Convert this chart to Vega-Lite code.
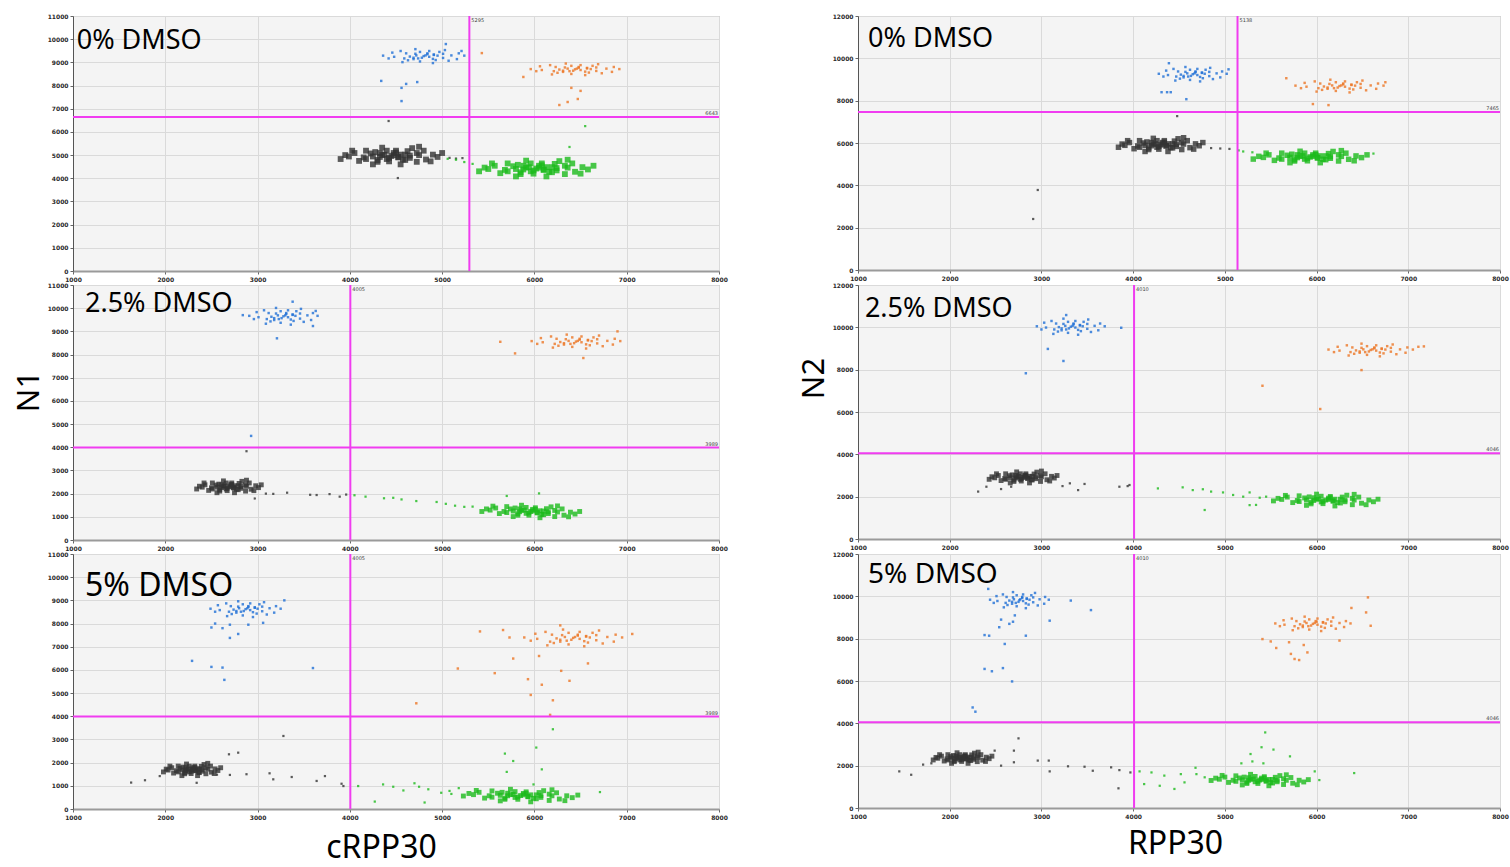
{
"$schema":"https://vega.github.io/schema/vega-lite/v6.json",
"padding":{"left":12,"top":12,"right":4,"bottom":6},
"background":"#ffffff",
"bounds":"flush",
"spacing":785,
"datasets":{
"thr":[
{"p":"l1","name":"0% DMSO","tx":5295,"ty":6643},
{"p":"l2","name":"2.5% DMSO","tx":4005,"ty":3989},
{"p":"l3","name":"5% DMSO","tx":4005,"ty":3989},
{"p":"r1","name":"0% DMSO","tx":5138,"ty":7465},
{"p":"r2","name":"2.5% DMSO","tx":4010,"ty":4046},
{"p":"r3","name":"5% DMSO","tx":4010,"ty":4046}
],
"l1":[
{"c":"k","x":4450,"y":4960},{"c":"k","x":4550,"y":5020},{"c":"k","x":4325,"y":4920},{"c":"k","x":4650,"y":4880},{"c":"k","x":4225,"y":5070},{"c":"k","x":4750,"y":5000},{"c":"k","x":4150,"y":4900},{"c":"k","x":4500,"y":5190},{"c":"k","x":4425,"y":4730},{"c":"k","x":4825,"y":4810},{"c":"k","x":4050,"y":5090},{"c":"k","x":4625,"y":5170},{"c":"k","x":4300,"y":4710},{"c":"k","x":4725,"y":4710},{"c":"k","x":4175,"y":5190},{"c":"k","x":4900,"y":5020},{"c":"k","x":3990,"y":4940},{"c":"k","x":4550,"y":4600},{"c":"k","x":4350,"y":5320},{"c":"k","x":4800,"y":5190},{"c":"k","x":4100,"y":4750},{"c":"k","x":4950,"y":4920},{"c":"k","x":3950,"y":5000},{"c":"k","x":4675,"y":5300},{"c":"k","x":4250,"y":4600},{"c":"k","x":4475,"y":5090},{"c":"k","x":4400,"y":4830},{"c":"k","x":4600,"y":4790},{"c":"k","x":4275,"y":5130},{"c":"k","x":4875,"y":4730},{"c":"k","x":4025,"y":5190},{"c":"k","x":4525,"y":4900},{"c":"k","x":4375,"y":5020},{"c":"k","x":5000,"y":5090},{"c":"k","x":3900,"y":4830},{"c":"k","x":4750,"y":5360},
{"c":"k","x":4525,"y":4920},{"c":"k","x":4350,"y":5000},{"c":"k","x":4500,"y":5110},{"c":"k","x":4425,"y":4880},{"c":"k","x":4650,"y":4980},{"c":"k","x":4250,"y":4940},{"c":"k","x":4575,"y":4810},{"c":"k","x":4325,"y":5090},{"c":"k","x":4725,"y":5090},{"c":"k","x":4175,"y":4830},{"c":"k","x":4475,"y":5000},{"c":"k","x":4400,"y":5190},{"c":"k","x":4600,"y":5020},{"c":"k","x":4300,"y":4790},
{"c":"k","x":5080,"y":4880,"r":1},{"c":"k","x":5150,"y":4850,"r":1},{"c":"k","x":5220,"y":4870,"r":1},{"c":"k","x":4520,"y":4010,"r":1},{"c":"k","x":4420,"y":6470,"r":1},
{"c":"g","x":6020,"y":4420},{"c":"g","x":6130,"y":4480},{"c":"g","x":5880,"y":4380},{"c":"g","x":6240,"y":4340},{"c":"g","x":5770,"y":4520},{"c":"g","x":6360,"y":4460},{"c":"g","x":5680,"y":4360},{"c":"g","x":6080,"y":4640},{"c":"g","x":5990,"y":4200},{"c":"g","x":6440,"y":4280},{"c":"g","x":5570,"y":4540},{"c":"g","x":6220,"y":4620},{"c":"g","x":5850,"y":4180},{"c":"g","x":6330,"y":4180},{"c":"g","x":5710,"y":4640},{"c":"g","x":6520,"y":4480},{"c":"g","x":5500,"y":4400},{"c":"g","x":6130,"y":4080},{"c":"g","x":5910,"y":4760},{"c":"g","x":6410,"y":4640},{"c":"g","x":5630,"y":4220},{"c":"g","x":6580,"y":4380},{"c":"g","x":5460,"y":4460},{"c":"g","x":6270,"y":4740},{"c":"g","x":5800,"y":4080},{"c":"g","x":6050,"y":4540},{"c":"g","x":5960,"y":4300},{"c":"g","x":6190,"y":4260},{"c":"g","x":5820,"y":4580},{"c":"g","x":6500,"y":4200},{"c":"g","x":5540,"y":4640},{"c":"g","x":6100,"y":4360},{"c":"g","x":5940,"y":4480},{"c":"g","x":6640,"y":4540},{"c":"g","x":5400,"y":4300},{"c":"g","x":6360,"y":4800},
{"c":"g","x":6100,"y":4380},{"c":"g","x":5910,"y":4460},{"c":"g","x":6080,"y":4560},{"c":"g","x":5990,"y":4340},{"c":"g","x":6240,"y":4440},{"c":"g","x":5800,"y":4400},{"c":"g","x":6160,"y":4280},{"c":"g","x":5880,"y":4540},{"c":"g","x":6330,"y":4540},{"c":"g","x":5710,"y":4300},{"c":"g","x":6050,"y":4460},{"c":"g","x":5960,"y":4640},{"c":"g","x":6190,"y":4480},{"c":"g","x":5850,"y":4260},
{"c":"g","x":5330,"y":4620,"r":1},{"c":"g","x":5240,"y":4700,"r":1},{"c":"g","x":5150,"y":4800,"r":1},{"c":"g","x":5060,"y":4840,"r":1},{"c":"g","x":6550,"y":6250,"r":1},{"c":"g","x":6380,"y":5350,"r":1},
{"c":"b","x":4800,"y":9270},{"c":"b","x":4910,"y":9340},{"c":"b","x":4690,"y":9200},{"c":"b","x":5010,"y":9190},{"c":"b","x":4610,"y":9390},{"c":"b","x":5100,"y":9300},{"c":"b","x":4480,"y":9240},{"c":"b","x":4860,"y":9490},{"c":"b","x":4760,"y":9040},{"c":"b","x":4970,"y":9450},{"c":"b","x":4630,"y":9090},{"c":"b","x":5070,"y":9070},{"c":"b","x":4550,"y":9490},{"c":"b","x":5180,"y":9390},{"c":"b","x":4420,"y":9170},{"c":"b","x":4900,"y":8970},{"c":"b","x":4710,"y":9570},{"c":"b","x":5160,"y":9140},{"c":"b","x":4460,"y":9420},{"c":"b","x":4840,"y":9350},{"c":"b","x":4740,"y":9170},{"c":"b","x":5030,"y":9530},{"c":"b","x":4570,"y":9010},{"c":"b","x":5240,"y":9290},{"c":"b","x":4360,"y":9290},{"c":"b","x":4930,"y":9100},
{"c":"b","x":4860,"y":9240},{"c":"b","x":4720,"y":9300},{"c":"b","x":4840,"y":9390},{"c":"b","x":4780,"y":9200},{"c":"b","x":4950,"y":9290},{"c":"b","x":4650,"y":9250},{"c":"b","x":4900,"y":9150},{"c":"b","x":4710,"y":9370},{"c":"b","x":5010,"y":9370},{"c":"b","x":4590,"y":9170},{"c":"b","x":4820,"y":9300},{"c":"b","x":4760,"y":9450},{"c":"b","x":4910,"y":9320},{"c":"b","x":4690,"y":9140},
{"c":"b","x":4340,"y":8200},{"c":"b","x":4560,"y":7900},{"c":"b","x":4560,"y":7330},{"c":"b","x":4610,"y":8070},{"c":"b","x":4730,"y":8150},{"c":"b","x":5040,"y":9790},{"c":"b","x":5210,"y":9490},
{"c":"o","x":6440,"y":8700},{"c":"o","x":6570,"y":8760},{"c":"o","x":6310,"y":8640},{"c":"o","x":6670,"y":8630},{"c":"o","x":6230,"y":8800},{"c":"o","x":6780,"y":8730},{"c":"o","x":6080,"y":8670},{"c":"o","x":6500,"y":8880},{"c":"o","x":6400,"y":8500},{"c":"o","x":6630,"y":8850},{"c":"o","x":6250,"y":8550},{"c":"o","x":6730,"y":8530},{"c":"o","x":6170,"y":8880},{"c":"o","x":6860,"y":8800},{"c":"o","x":6020,"y":8620},{"c":"o","x":6550,"y":8450},{"c":"o","x":6340,"y":8950},{"c":"o","x":6840,"y":8590},{"c":"o","x":6060,"y":8830},{"c":"o","x":6480,"y":8770},{"c":"o","x":6380,"y":8620},{"c":"o","x":6690,"y":8920},{"c":"o","x":6190,"y":8480},{"c":"o","x":6920,"y":8710},{"c":"o","x":5960,"y":8710},{"c":"o","x":6590,"y":8560},
{"c":"o","x":6500,"y":8670},{"c":"o","x":6360,"y":8730},{"c":"o","x":6480,"y":8800},{"c":"o","x":6420,"y":8640},{"c":"o","x":6610,"y":8710},{"c":"o","x":6270,"y":8690},{"c":"o","x":6550,"y":8600},{"c":"o","x":6330,"y":8780},{"c":"o","x":6670,"y":8780},{"c":"o","x":6210,"y":8620},{"c":"o","x":6460,"y":8730},{"c":"o","x":6400,"y":8850},{"c":"o","x":6570,"y":8740},{"c":"o","x":6310,"y":8590},
{"c":"o","x":5430,"y":9400},{"c":"o","x":5880,"y":8370},{"c":"o","x":6270,"y":7160},{"c":"o","x":6360,"y":7290},{"c":"o","x":6470,"y":7420},{"c":"o","x":6500,"y":7770},{"c":"o","x":6400,"y":7900}
],
"l2":[
{"c":"k","x":2690,"y":2290},{"c":"k","x":2750,"y":2340},{"c":"k","x":2610,"y":2260},{"c":"k","x":2820,"y":2230},{"c":"k","x":2550,"y":2370},{"c":"k","x":2880,"y":2320},{"c":"k","x":2500,"y":2250},{"c":"k","x":2720,"y":2460},{"c":"k","x":2670,"y":2130},{"c":"k","x":2930,"y":2190},{"c":"k","x":2430,"y":2380},{"c":"k","x":2800,"y":2440},{"c":"k","x":2590,"y":2110},{"c":"k","x":2870,"y":2110},{"c":"k","x":2510,"y":2460},{"c":"k","x":2980,"y":2340},{"c":"k","x":2400,"y":2280},{"c":"k","x":2750,"y":2040},{"c":"k","x":2630,"y":2550},{"c":"k","x":2910,"y":2460},{"c":"k","x":2470,"y":2140},{"c":"k","x":3010,"y":2260},{"c":"k","x":2370,"y":2320},{"c":"k","x":2830,"y":2530},{"c":"k","x":2560,"y":2040},{"c":"k","x":2710,"y":2380},{"c":"k","x":2660,"y":2200},{"c":"k","x":2790,"y":2170},{"c":"k","x":2580,"y":2410},{"c":"k","x":2960,"y":2130},{"c":"k","x":2420,"y":2460},{"c":"k","x":2740,"y":2250},{"c":"k","x":2640,"y":2340},{"c":"k","x":3040,"y":2380},{"c":"k","x":2340,"y":2200},{"c":"k","x":2880,"y":2580},
{"c":"k","x":2740,"y":2260},{"c":"k","x":2630,"y":2320},{"c":"k","x":2720,"y":2400},{"c":"k","x":2670,"y":2230},{"c":"k","x":2820,"y":2310},{"c":"k","x":2560,"y":2280},{"c":"k","x":2770,"y":2190},{"c":"k","x":2610,"y":2380},{"c":"k","x":2870,"y":2380},{"c":"k","x":2510,"y":2200},{"c":"k","x":2710,"y":2320},{"c":"k","x":2660,"y":2460},{"c":"k","x":2790,"y":2340},{"c":"k","x":2590,"y":2170},
{"c":"k","x":3090,"y":2000,"r":1},{"c":"k","x":3170,"y":1990,"r":1},{"c":"k","x":3320,"y":2040,"r":1},{"c":"k","x":3570,"y":1950,"r":1},{"c":"k","x":3640,"y":1940,"r":1},{"c":"k","x":3780,"y":1980,"r":1},{"c":"k","x":3890,"y":1870,"r":1},{"c":"k","x":3960,"y":1960,"r":1},{"c":"k","x":2880,"y":3830,"r":1},{"c":"k","x":2970,"y":1790,"r":1},
{"c":"g","x":5960,"y":1230},{"c":"g","x":6060,"y":1260},{"c":"g","x":5840,"y":1220},{"c":"g","x":6150,"y":1140},{"c":"g","x":5740,"y":1340},{"c":"g","x":6250,"y":1210},{"c":"g","x":5670,"y":1230},{"c":"g","x":6010,"y":1390},{"c":"g","x":5940,"y":1070},{"c":"g","x":6320,"y":1070},{"c":"g","x":5580,"y":1380},{"c":"g","x":6130,"y":1350},{"c":"g","x":5820,"y":1070},{"c":"g","x":6220,"y":1010},{"c":"g","x":5700,"y":1440},{"c":"g","x":6390,"y":1200},{"c":"g","x":5520,"y":1290},{"c":"g","x":6060,"y":960},{"c":"g","x":5860,"y":1500},{"c":"g","x":6300,"y":1340},{"c":"g","x":5620,"y":1140},{"c":"g","x":6440,"y":1120},{"c":"g","x":5480,"y":1340},{"c":"g","x":6180,"y":1430},{"c":"g","x":5770,"y":1010},{"c":"g","x":5980,"y":1320},{"c":"g","x":5910,"y":1150},{"c":"g","x":6100,"y":1090},{"c":"g","x":5790,"y":1380},{"c":"g","x":6370,"y":1000},{"c":"g","x":5550,"y":1460},{"c":"g","x":6030,"y":1170},{"c":"g","x":5890,"y":1290},{"c":"g","x":6490,"y":1230},{"c":"g","x":5430,"y":1230},{"c":"g","x":6250,"y":1470},
{"c":"g","x":6030,"y":1190},{"c":"g","x":5860,"y":1280},{"c":"g","x":6010,"y":1330},{"c":"g","x":5940,"y":1170},{"c":"g","x":6150,"y":1215},{"c":"g","x":5770,"y":1250},{"c":"g","x":6080,"y":1105},{"c":"g","x":5840,"y":1340},{"c":"g","x":6220,"y":1275},{"c":"g","x":5700,"y":1185},{"c":"g","x":5980,"y":1255},{"c":"g","x":5910,"y":1405},{"c":"g","x":6100,"y":1250},{"c":"g","x":5820,"y":1135},
{"c":"g","x":4050,"y":1930,"r":1},{"c":"g","x":4170,"y":1870,"r":1},{"c":"g","x":4370,"y":1800,"r":1},{"c":"g","x":4470,"y":1820,"r":1},{"c":"g","x":4560,"y":1750,"r":1},{"c":"g","x":4720,"y":1680,"r":1},{"c":"g","x":4940,"y":1640,"r":1},{"c":"g","x":5040,"y":1560,"r":1},{"c":"g","x":5140,"y":1480,"r":1},{"c":"g","x":5240,"y":1430,"r":1},{"c":"g","x":5330,"y":1440,"r":1},{"c":"g","x":5700,"y":1900,"r":1},{"c":"g","x":6050,"y":2010,"r":1},
{"c":"b","x":3280,"y":9650},{"c":"b","x":3380,"y":9730},{"c":"b","x":3180,"y":9570},{"c":"b","x":3460,"y":9550},{"c":"b","x":3120,"y":9790},{"c":"b","x":3540,"y":9690},{"c":"b","x":3010,"y":9610},{"c":"b","x":3330,"y":9910},{"c":"b","x":3250,"y":9370},{"c":"b","x":3420,"y":9870},{"c":"b","x":3140,"y":9430},{"c":"b","x":3500,"y":9410},{"c":"b","x":3070,"y":9910},{"c":"b","x":3600,"y":9790},{"c":"b","x":2960,"y":9530},{"c":"b","x":3360,"y":9290},{"c":"b","x":3200,"y":10010},{"c":"b","x":3580,"y":9490},{"c":"b","x":2990,"y":9830},{"c":"b","x":3310,"y":9750},{"c":"b","x":3230,"y":9530},{"c":"b","x":3470,"y":9970},{"c":"b","x":3090,"y":9330},{"c":"b","x":3650,"y":9670},{"c":"b","x":2910,"y":9670},{"c":"b","x":3390,"y":9450},
{"c":"b","x":3330,"y":9610},{"c":"b","x":3220,"y":9690},{"c":"b","x":3310,"y":9790},{"c":"b","x":3260,"y":9570},{"c":"b","x":3410,"y":9670},{"c":"b","x":3150,"y":9630},{"c":"b","x":3360,"y":9510},{"c":"b","x":3200,"y":9770},{"c":"b","x":3460,"y":9770},{"c":"b","x":3100,"y":9530},{"c":"b","x":3300,"y":9690},{"c":"b","x":3250,"y":9870},{"c":"b","x":3380,"y":9710},{"c":"b","x":3180,"y":9490},
{"c":"b","x":2840,"y":9700},{"c":"b","x":3210,"y":8700},{"c":"b","x":2930,"y":4490},{"c":"b","x":3380,"y":10280},{"c":"b","x":3630,"y":9880},{"c":"b","x":3600,"y":9230},
{"c":"o","x":6450,"y":8560},{"c":"o","x":6580,"y":8630},{"c":"o","x":6320,"y":8490},{"c":"o","x":6680,"y":8480},{"c":"o","x":6240,"y":8680},{"c":"o","x":6790,"y":8590},{"c":"o","x":6090,"y":8530},{"c":"o","x":6510,"y":8780},{"c":"o","x":6410,"y":8330},{"c":"o","x":6640,"y":8740},{"c":"o","x":6260,"y":8380},{"c":"o","x":6740,"y":8360},{"c":"o","x":6180,"y":8780},{"c":"o","x":6870,"y":8680},{"c":"o","x":6030,"y":8460},{"c":"o","x":6560,"y":8260},{"c":"o","x":6350,"y":8860},{"c":"o","x":6850,"y":8430},{"c":"o","x":6070,"y":8710},{"c":"o","x":6490,"y":8640},{"c":"o","x":6390,"y":8460},{"c":"o","x":6700,"y":8820},{"c":"o","x":6200,"y":8300},{"c":"o","x":6930,"y":8580},{"c":"o","x":5970,"y":8580},{"c":"o","x":6600,"y":8400},
{"c":"o","x":6510,"y":8530},{"c":"o","x":6370,"y":8590},{"c":"o","x":6490,"y":8680},{"c":"o","x":6430,"y":8490},{"c":"o","x":6620,"y":8580},{"c":"o","x":6280,"y":8540},{"c":"o","x":6560,"y":8440},{"c":"o","x":6340,"y":8660},{"c":"o","x":6680,"y":8660},{"c":"o","x":6220,"y":8460},{"c":"o","x":6470,"y":8590},{"c":"o","x":6410,"y":8740},{"c":"o","x":6580,"y":8610},{"c":"o","x":6320,"y":8430},
{"c":"o","x":5630,"y":8550},{"c":"o","x":5790,"y":8050},{"c":"o","x":6530,"y":7850},{"c":"o","x":6900,"y":9000}
],
"l3":[
{"c":"k","x":2290,"y":1690},{"c":"k","x":2350,"y":1730},{"c":"k","x":2220,"y":1660},{"c":"k","x":2400,"y":1630},{"c":"k","x":2160,"y":1760},{"c":"k","x":2460,"y":1720},{"c":"k","x":2120,"y":1650},{"c":"k","x":2320,"y":1850},{"c":"k","x":2280,"y":1530},{"c":"k","x":2500,"y":1590},{"c":"k","x":2070,"y":1780},{"c":"k","x":2390,"y":1840},{"c":"k","x":2210,"y":1520},{"c":"k","x":2440,"y":1520},{"c":"k","x":2140,"y":1850},{"c":"k","x":2540,"y":1730},{"c":"k","x":2030,"y":1680},{"c":"k","x":2350,"y":1440},{"c":"k","x":2230,"y":1940},{"c":"k","x":2490,"y":1850},{"c":"k","x":2090,"y":1550},{"c":"k","x":2570,"y":1660},{"c":"k","x":2010,"y":1720},{"c":"k","x":2420,"y":1920},{"c":"k","x":2180,"y":1440},{"c":"k","x":2300,"y":1780},{"c":"k","x":2260,"y":1600},{"c":"k","x":2370,"y":1570},{"c":"k","x":2190,"y":1810},{"c":"k","x":2530,"y":1530},{"c":"k","x":2050,"y":1850},{"c":"k","x":2330,"y":1650},{"c":"k","x":2250,"y":1730},{"c":"k","x":2600,"y":1780},{"c":"k","x":1980,"y":1600},{"c":"k","x":2460,"y":1970},
{"c":"k","x":2330,"y":1660},{"c":"k","x":2230,"y":1720},{"c":"k","x":2320,"y":1790},{"c":"k","x":2280,"y":1630},{"c":"k","x":2400,"y":1700},{"c":"k","x":2180,"y":1680},{"c":"k","x":2360,"y":1590},{"c":"k","x":2220,"y":1780},{"c":"k","x":2440,"y":1780},{"c":"k","x":2140,"y":1600},{"c":"k","x":2300,"y":1720},{"c":"k","x":2260,"y":1850},{"c":"k","x":2370,"y":1730},{"c":"k","x":2210,"y":1570},
{"c":"k","x":1630,"y":1140,"r":1},{"c":"k","x":1780,"y":1240,"r":1},{"c":"k","x":1940,"y":1420,"r":1},{"c":"k","x":2690,"y":2360,"r":1},{"c":"k","x":2790,"y":2430,"r":1},{"c":"k","x":3280,"y":3150,"r":1},{"c":"k","x":2700,"y":1470,"r":1},{"c":"k","x":2880,"y":1500,"r":1},{"c":"k","x":3130,"y":1540,"r":1},{"c":"k","x":3170,"y":1280,"r":1},{"c":"k","x":3370,"y":1380,"r":1},{"c":"k","x":3640,"y":1210,"r":1},{"c":"k","x":3730,"y":1420,"r":1},{"c":"k","x":3910,"y":1090,"r":1},{"c":"k","x":3930,"y":990,"r":1},{"c":"k","x":2560,"y":1480,"r":1},{"c":"k","x":2340,"y":1130,"r":1},
{"c":"g","x":5850,"y":580},{"c":"g","x":5960,"y":610},{"c":"g","x":5710,"y":570},{"c":"g","x":6070,"y":500},{"c":"g","x":5600,"y":680},{"c":"g","x":6190,"y":570},{"c":"g","x":5510,"y":570},{"c":"g","x":5910,"y":740},{"c":"g","x":5820,"y":420},{"c":"g","x":6270,"y":430},{"c":"g","x":5400,"y":720},{"c":"g","x":6050,"y":710},{"c":"g","x":5680,"y":420},{"c":"g","x":6160,"y":370},{"c":"g","x":5540,"y":780},{"c":"g","x":6350,"y":570},{"c":"g","x":5340,"y":620},{"c":"g","x":5960,"y":310},{"c":"g","x":5740,"y":850},{"c":"g","x":6240,"y":700},{"c":"g","x":5460,"y":470},{"c":"g","x":6410,"y":490},{"c":"g","x":5290,"y":670},{"c":"g","x":6100,"y":790},{"c":"g","x":5630,"y":350},{"c":"g","x":5880,"y":670},{"c":"g","x":5790,"y":500},{"c":"g","x":6020,"y":440},{"c":"g","x":5650,"y":720},{"c":"g","x":6330,"y":360},{"c":"g","x":5370,"y":800},{"c":"g","x":5930,"y":530},{"c":"g","x":5770,"y":630},{"c":"g","x":6470,"y":600},{"c":"g","x":5230,"y":560},{"c":"g","x":6190,"y":830},
{"c":"g","x":5930,"y":540},{"c":"g","x":5740,"y":620},{"c":"g","x":5910,"y":680},{"c":"g","x":5820,"y":520},{"c":"g","x":6070,"y":580},{"c":"g","x":5630,"y":590},{"c":"g","x":5990,"y":460},{"c":"g","x":5710,"y":680},{"c":"g","x":6160,"y":640},{"c":"g","x":5540,"y":510},{"c":"g","x":5880,"y":610},{"c":"g","x":5790,"y":750},{"c":"g","x":6020,"y":610},{"c":"g","x":5680,"y":470},
{"c":"g","x":4090,"y":990,"r":1},{"c":"g","x":4360,"y":1060,"r":1},{"c":"g","x":4470,"y":960,"r":1},{"c":"g","x":4580,"y":800,"r":1},{"c":"g","x":4700,"y":1110,"r":1},{"c":"g","x":4750,"y":960,"r":1},{"c":"g","x":4850,"y":850,"r":1},{"c":"g","x":4810,"y":280,"r":1},{"c":"g","x":4990,"y":700,"r":1},{"c":"g","x":5080,"y":780,"r":1},{"c":"g","x":4270,"y":320,"r":1},{"c":"g","x":5990,"y":1060,"r":1},{"c":"g","x":6020,"y":2650,"r":1},{"c":"g","x":6080,"y":1710,"r":1},{"c":"g","x":5680,"y":2390,"r":1},{"c":"g","x":5700,"y":1600,"r":1},{"c":"g","x":5770,"y":2070,"r":1},{"c":"g","x":6200,"y":3440,"r":1},{"c":"g","x":6710,"y":730,"r":1},{"c":"g","x":5180,"y":900,"r":1},{"c":"g","x":5100,"y":650,"r":1},
{"c":"b","x":2870,"y":8620},{"c":"b","x":2970,"y":8700},{"c":"b","x":2770,"y":8540},{"c":"b","x":3050,"y":8530},{"c":"b","x":2710,"y":8750},{"c":"b","x":3130,"y":8660},{"c":"b","x":2590,"y":8580},{"c":"b","x":2920,"y":8870},{"c":"b","x":2840,"y":8350},{"c":"b","x":3020,"y":8830},{"c":"b","x":2720,"y":8410},{"c":"b","x":3100,"y":8390},{"c":"b","x":2660,"y":8870},{"c":"b","x":3200,"y":8750},{"c":"b","x":2540,"y":8510},{"c":"b","x":2950,"y":8280},{"c":"b","x":2790,"y":8960},{"c":"b","x":3180,"y":8470},{"c":"b","x":2570,"y":8790},{"c":"b","x":2900,"y":8720},{"c":"b","x":2820,"y":8510},{"c":"b","x":3070,"y":8920},{"c":"b","x":2670,"y":8320},{"c":"b","x":3250,"y":8640},{"c":"b","x":2490,"y":8640},{"c":"b","x":2990,"y":8430},
{"c":"b","x":2920,"y":8580},{"c":"b","x":2800,"y":8660},{"c":"b","x":2900,"y":8750},{"c":"b","x":2850,"y":8540},{"c":"b","x":3000,"y":8640},{"c":"b","x":2740,"y":8600},{"c":"b","x":2950,"y":8490},{"c":"b","x":2790,"y":8730},{"c":"b","x":3050,"y":8730},{"c":"b","x":2690,"y":8510},{"c":"b","x":2890,"y":8660},{"c":"b","x":2840,"y":8830},{"c":"b","x":2970,"y":8680},{"c":"b","x":2770,"y":8470},
{"c":"b","x":2540,"y":8000},{"c":"b","x":2620,"y":7800},{"c":"b","x":2700,"y":7950},{"c":"b","x":2790,"y":7550},{"c":"b","x":2900,"y":7950},{"c":"b","x":2700,"y":7380},{"c":"b","x":2500,"y":7830},{"c":"b","x":3060,"y":8030},{"c":"b","x":3290,"y":9000},{"c":"b","x":2290,"y":6390},{"c":"b","x":2500,"y":6130},{"c":"b","x":2620,"y":6100},{"c":"b","x":2640,"y":5570},{"c":"b","x":3600,"y":6080},
{"c":"o","x":6420,"y":7380},{"c":"o","x":6560,"y":7460},{"c":"o","x":6280,"y":7300},{"c":"o","x":6670,"y":7280},{"c":"o","x":6190,"y":7520},{"c":"o","x":6790,"y":7420},{"c":"o","x":6030,"y":7340},{"c":"o","x":6490,"y":7640},{"c":"o","x":6370,"y":7100},{"c":"o","x":6630,"y":7600},{"c":"o","x":6210,"y":7160},{"c":"o","x":6740,"y":7140},{"c":"o","x":6120,"y":7640},{"c":"o","x":6880,"y":7520},{"c":"o","x":5960,"y":7260},{"c":"o","x":6540,"y":7020},{"c":"o","x":6310,"y":7740},{"c":"o","x":6860,"y":7220},{"c":"o","x":6010,"y":7560},{"c":"o","x":6470,"y":7480},{"c":"o","x":6350,"y":7260},{"c":"o","x":6700,"y":7700},{"c":"o","x":6140,"y":7060},{"c":"o","x":6950,"y":7400},{"c":"o","x":5890,"y":7400},{"c":"o","x":6580,"y":7180},
{"c":"o","x":6490,"y":7340},{"c":"o","x":6330,"y":7420},{"c":"o","x":6470,"y":7520},{"c":"o","x":6400,"y":7300},{"c":"o","x":6600,"y":7400},{"c":"o","x":6240,"y":7360},{"c":"o","x":6540,"y":7240},{"c":"o","x":6300,"y":7500},{"c":"o","x":6670,"y":7500},{"c":"o","x":6170,"y":7220},{"c":"o","x":6440,"y":7420},{"c":"o","x":6370,"y":7600},{"c":"o","x":6560,"y":7440},{"c":"o","x":6280,"y":7220},
{"c":"o","x":7060,"y":7550},{"c":"o","x":6280,"y":7920},{"c":"o","x":5410,"y":7660},{"c":"o","x":5660,"y":7720},{"c":"o","x":5730,"y":7400},{"c":"o","x":5170,"y":6060},{"c":"o","x":5570,"y":5860},{"c":"o","x":4720,"y":4560},{"c":"o","x":5770,"y":6490},{"c":"o","x":5930,"y":5600},{"c":"o","x":6080,"y":5360},{"c":"o","x":5960,"y":4920},{"c":"o","x":6200,"y":4690},{"c":"o","x":6170,"y":4060},{"c":"o","x":6290,"y":5960},{"c":"o","x":6380,"y":5530},{"c":"o","x":6580,"y":6280},{"c":"o","x":6050,"y":6600}
],
"r1":[
{"c":"k","x":4300,"y":5910},{"c":"k","x":4380,"y":5960},{"c":"k","x":4200,"y":5870},{"c":"k","x":4470,"y":5840},{"c":"k","x":4110,"y":6000},{"c":"k","x":4550,"y":5950},{"c":"k","x":4050,"y":5860},{"c":"k","x":4340,"y":6110},{"c":"k","x":4280,"y":5710},{"c":"k","x":4620,"y":5780},{"c":"k","x":3960,"y":6020},{"c":"k","x":4450,"y":6090},{"c":"k","x":4170,"y":5690},{"c":"k","x":4530,"y":5690},{"c":"k","x":4070,"y":6110},{"c":"k","x":4680,"y":5960},{"c":"k","x":3910,"y":5890},{"c":"k","x":4380,"y":5600},{"c":"k","x":4220,"y":6220},{"c":"k","x":4590,"y":6110},{"c":"k","x":4010,"y":5730},{"c":"k","x":4720,"y":5870},{"c":"k","x":3880,"y":5950},{"c":"k","x":4490,"y":6200},{"c":"k","x":4130,"y":5600},{"c":"k","x":4320,"y":6020},{"c":"k","x":4260,"y":5800},{"c":"k","x":4430,"y":5770},{"c":"k","x":4150,"y":6050},{"c":"k","x":4660,"y":5710},{"c":"k","x":3940,"y":6110},{"c":"k","x":4360,"y":5860},{"c":"k","x":4240,"y":5960},{"c":"k","x":4760,"y":6020},{"c":"k","x":3840,"y":5800},{"c":"k","x":4550,"y":6250},
{"c":"k","x":4360,"y":5870},{"c":"k","x":4220,"y":5950},{"c":"k","x":4340,"y":6040},{"c":"k","x":4280,"y":5840},{"c":"k","x":4470,"y":5930},{"c":"k","x":4130,"y":5890},{"c":"k","x":4410,"y":5780},{"c":"k","x":4200,"y":6020},{"c":"k","x":4530,"y":6020},{"c":"k","x":4070,"y":5800},{"c":"k","x":4320,"y":5950},{"c":"k","x":4260,"y":6110},{"c":"k","x":4430,"y":5960},{"c":"k","x":4170,"y":5770},
{"c":"k","x":4850,"y":5760,"r":1},{"c":"k","x":4950,"y":5740,"r":1},{"c":"k","x":5050,"y":5720,"r":1},{"c":"k","x":4480,"y":7270,"r":1},{"c":"k","x":2960,"y":3780,"r":1},{"c":"k","x":2910,"y":2410,"r":1},
{"c":"g","x":5930,"y":5340},{"c":"g","x":6040,"y":5390},{"c":"g","x":5790,"y":5310},{"c":"g","x":6150,"y":5280},{"c":"g","x":5680,"y":5420},{"c":"g","x":6270,"y":5370},{"c":"g","x":5590,"y":5290},{"c":"g","x":5990,"y":5520},{"c":"g","x":5900,"y":5160},{"c":"g","x":6350,"y":5230},{"c":"g","x":5480,"y":5440},{"c":"g","x":6130,"y":5500},{"c":"g","x":5760,"y":5150},{"c":"g","x":6240,"y":5150},{"c":"g","x":5620,"y":5520},{"c":"g","x":6430,"y":5390},{"c":"g","x":5420,"y":5320},{"c":"g","x":6040,"y":5070},{"c":"g","x":5820,"y":5610},{"c":"g","x":6320,"y":5520},{"c":"g","x":5540,"y":5180},{"c":"g","x":6490,"y":5310},{"c":"g","x":5370,"y":5370},{"c":"g","x":6180,"y":5600},{"c":"g","x":5710,"y":5070},{"c":"g","x":5960,"y":5440},{"c":"g","x":5870,"y":5240},{"c":"g","x":6100,"y":5210},{"c":"g","x":5730,"y":5470},{"c":"g","x":6410,"y":5160},{"c":"g","x":5450,"y":5520},{"c":"g","x":6010,"y":5290},{"c":"g","x":5850,"y":5390},{"c":"g","x":6550,"y":5440},{"c":"g","x":5310,"y":5240},{"c":"g","x":6270,"y":5640},
{"c":"g","x":6010,"y":5310},{"c":"g","x":5820,"y":5370},{"c":"g","x":5990,"y":5450},{"c":"g","x":5900,"y":5280},{"c":"g","x":6150,"y":5360},{"c":"g","x":5710,"y":5320},{"c":"g","x":6070,"y":5230},{"c":"g","x":5790,"y":5440},{"c":"g","x":6240,"y":5440},{"c":"g","x":5620,"y":5240},{"c":"g","x":5960,"y":5370},{"c":"g","x":5870,"y":5520},{"c":"g","x":6100,"y":5390},{"c":"g","x":5760,"y":5210},
{"c":"g","x":5200,"y":5600,"r":1},{"c":"g","x":5150,"y":5650,"r":1},{"c":"g","x":5300,"y":5560,"r":1},{"c":"g","x":6620,"y":5500,"r":1},
{"c":"b","x":4650,"y":9250},{"c":"b","x":4750,"y":9330},{"c":"b","x":4550,"y":9170},{"c":"b","x":4830,"y":9160},{"c":"b","x":4490,"y":9380},{"c":"b","x":4910,"y":9290},{"c":"b","x":4380,"y":9210},{"c":"b","x":4700,"y":9500},{"c":"b","x":4620,"y":8980},{"c":"b","x":4790,"y":9460},{"c":"b","x":4510,"y":9040},{"c":"b","x":4870,"y":9020},{"c":"b","x":4440,"y":9500},{"c":"b","x":4970,"y":9380},{"c":"b","x":4330,"y":9140},{"c":"b","x":4730,"y":8910},{"c":"b","x":4570,"y":9590},{"c":"b","x":4950,"y":9100},{"c":"b","x":4360,"y":9420},{"c":"b","x":4680,"y":9350},{"c":"b","x":4600,"y":9140},{"c":"b","x":4840,"y":9550},{"c":"b","x":4460,"y":8950},{"c":"b","x":5020,"y":9270},{"c":"b","x":4280,"y":9270},{"c":"b","x":4760,"y":9060},
{"c":"b","x":4700,"y":9210},{"c":"b","x":4590,"y":9290},{"c":"b","x":4680,"y":9380},{"c":"b","x":4630,"y":9170},{"c":"b","x":4780,"y":9270},{"c":"b","x":4520,"y":9230},{"c":"b","x":4730,"y":9120},{"c":"b","x":4570,"y":9360},{"c":"b","x":4830,"y":9360},{"c":"b","x":4470,"y":9140},{"c":"b","x":4670,"y":9290},{"c":"b","x":4620,"y":9460},{"c":"b","x":4750,"y":9310},{"c":"b","x":4550,"y":9100},
{"c":"b","x":4310,"y":8400},{"c":"b","x":4370,"y":8400},{"c":"b","x":4410,"y":8400},{"c":"b","x":4580,"y":8070},{"c":"b","x":4390,"y":9770},{"c":"b","x":5040,"y":9480},
{"c":"o","x":6250,"y":8690},{"c":"o","x":6380,"y":8760},{"c":"o","x":6120,"y":8620},{"c":"o","x":6480,"y":8610},{"c":"o","x":6040,"y":8810},{"c":"o","x":6590,"y":8720},{"c":"o","x":5890,"y":8660},{"c":"o","x":6310,"y":8910},{"c":"o","x":6210,"y":8460},{"c":"o","x":6440,"y":8870},{"c":"o","x":6060,"y":8510},{"c":"o","x":6540,"y":8490},{"c":"o","x":5980,"y":8910},{"c":"o","x":6670,"y":8810},{"c":"o","x":5830,"y":8590},{"c":"o","x":6360,"y":8390},{"c":"o","x":6150,"y":8990},{"c":"o","x":6650,"y":8560},{"c":"o","x":5870,"y":8840},{"c":"o","x":6290,"y":8770},{"c":"o","x":6190,"y":8590},{"c":"o","x":6500,"y":8950},{"c":"o","x":6000,"y":8430},{"c":"o","x":6730,"y":8710},{"c":"o","x":5770,"y":8710},{"c":"o","x":6400,"y":8530},
{"c":"o","x":6310,"y":8660},{"c":"o","x":6170,"y":8720},{"c":"o","x":6290,"y":8810},{"c":"o","x":6230,"y":8620},{"c":"o","x":6420,"y":8710},{"c":"o","x":6080,"y":8670},{"c":"o","x":6360,"y":8570},{"c":"o","x":6140,"y":8790},{"c":"o","x":6480,"y":8790},{"c":"o","x":6020,"y":8590},{"c":"o","x":6270,"y":8720},{"c":"o","x":6210,"y":8870},{"c":"o","x":6380,"y":8740},{"c":"o","x":6120,"y":8560},
{"c":"o","x":5670,"y":9060},{"c":"o","x":5960,"y":7840},{"c":"o","x":6130,"y":7790},{"c":"o","x":6750,"y":8870}
],
"r2":[
{"c":"k","x":2800,"y":2910},{"c":"k","x":2870,"y":2960},{"c":"k","x":2720,"y":2880},{"c":"k","x":2940,"y":2850},{"c":"k","x":2650,"y":2990},{"c":"k","x":3000,"y":2940},{"c":"k","x":2600,"y":2860},{"c":"k","x":2830,"y":3080},{"c":"k","x":2780,"y":2740},{"c":"k","x":3060,"y":2800},{"c":"k","x":2530,"y":3000},{"c":"k","x":2920,"y":3070},{"c":"k","x":2700,"y":2720},{"c":"k","x":2990,"y":2720},{"c":"k","x":2610,"y":3080},{"c":"k","x":3110,"y":2960},{"c":"k","x":2490,"y":2890},{"c":"k","x":2870,"y":2650},{"c":"k","x":2730,"y":3170},{"c":"k","x":3040,"y":3080},{"c":"k","x":2560,"y":2760},{"c":"k","x":3140,"y":2880},{"c":"k","x":2460,"y":2940},{"c":"k","x":2950,"y":3160},{"c":"k","x":2660,"y":2650},{"c":"k","x":2820,"y":3000},{"c":"k","x":2770,"y":2820},{"c":"k","x":2900,"y":2790},{"c":"k","x":2680,"y":3030},{"c":"k","x":3090,"y":2740},{"c":"k","x":2510,"y":3080},{"c":"k","x":2850,"y":2860},{"c":"k","x":2750,"y":2960},{"c":"k","x":3170,"y":3000},{"c":"k","x":2430,"y":2820},{"c":"k","x":3000,"y":3210},
{"c":"k","x":2850,"y":2880},{"c":"k","x":2730,"y":2940},{"c":"k","x":2830,"y":3020},{"c":"k","x":2780,"y":2850},{"c":"k","x":2940,"y":2930},{"c":"k","x":2660,"y":2890},{"c":"k","x":2890,"y":2800},{"c":"k","x":2720,"y":3000},{"c":"k","x":2990,"y":3000},{"c":"k","x":2610,"y":2820},{"c":"k","x":2820,"y":2940},{"c":"k","x":2770,"y":3080},{"c":"k","x":2900,"y":2960},{"c":"k","x":2700,"y":2790},
{"c":"k","x":2310,"y":2240,"r":1},{"c":"k","x":2400,"y":2470,"r":1},{"c":"k","x":2560,"y":2360,"r":1},{"c":"k","x":2670,"y":2470,"r":1},{"c":"k","x":3230,"y":2500,"r":1},{"c":"k","x":3310,"y":2630,"r":1},{"c":"k","x":3400,"y":2310,"r":1},{"c":"k","x":3470,"y":2600,"r":1},{"c":"k","x":3850,"y":2470,"r":1},{"c":"k","x":3940,"y":2500,"r":1},{"c":"k","x":3960,"y":2550,"r":1},
{"c":"g","x":6100,"y":1840},{"c":"g","x":6200,"y":1880},{"c":"g","x":5970,"y":1820},{"c":"g","x":6310,"y":1760},{"c":"g","x":5870,"y":1940},{"c":"g","x":6410,"y":1840},{"c":"g","x":5790,"y":1820},{"c":"g","x":6150,"y":2010},{"c":"g","x":6070,"y":1670},{"c":"g","x":6490,"y":1690},{"c":"g","x":5680,"y":1980},{"c":"g","x":6280,"y":1980},{"c":"g","x":5940,"y":1660},{"c":"g","x":6390,"y":1620},{"c":"g","x":5810,"y":2040},{"c":"g","x":6570,"y":1840},{"c":"g","x":5620,"y":1870},{"c":"g","x":6200,"y":1560},{"c":"g","x":6000,"y":2120},{"c":"g","x":6460,"y":1980},{"c":"g","x":5740,"y":1720},{"c":"g","x":6620,"y":1760},{"c":"g","x":5580,"y":1920},{"c":"g","x":6330,"y":2070},{"c":"g","x":5890,"y":1590},{"c":"g","x":6130,"y":1930},{"c":"g","x":6050,"y":1750},{"c":"g","x":6260,"y":1700},{"c":"g","x":5920,"y":1990},{"c":"g","x":6540,"y":1620},{"c":"g","x":5660,"y":2060},{"c":"g","x":6180,"y":1790},{"c":"g","x":6020,"y":1900},{"c":"g","x":6670,"y":1880},{"c":"g","x":5530,"y":1800},{"c":"g","x":6410,"y":2110},
{"c":"g","x":6180,"y":1800},{"c":"g","x":6000,"y":1880},{"c":"g","x":6150,"y":1950},{"c":"g","x":6070,"y":1780},{"c":"g","x":6310,"y":1840},{"c":"g","x":5890,"y":1840},{"c":"g","x":6230,"y":1720},{"c":"g","x":5970,"y":1950},{"c":"g","x":6390,"y":1920},{"c":"g","x":5810,"y":1770},{"c":"g","x":6130,"y":1870},{"c":"g","x":6050,"y":2020},{"c":"g","x":6260,"y":1880},{"c":"g","x":5940,"y":1730},
{"c":"g","x":4270,"y":2390,"r":1},{"c":"g","x":4540,"y":2440,"r":1},{"c":"g","x":4650,"y":2310,"r":1},{"c":"g","x":4760,"y":2350,"r":1},{"c":"g","x":4850,"y":2240,"r":1},{"c":"g","x":4980,"y":2200,"r":1},{"c":"g","x":5090,"y":2080,"r":1},{"c":"g","x":5200,"y":2000,"r":1},{"c":"g","x":5270,"y":2200,"r":1},{"c":"g","x":5340,"y":1610,"r":1},{"c":"g","x":5450,"y":2000,"r":1},{"c":"g","x":4780,"y":1370,"r":1},{"c":"g","x":5270,"y":1600,"r":1},{"c":"g","x":5380,"y":1950,"r":1},
{"c":"b","x":3320,"y":10030},{"c":"b","x":3420,"y":10110},{"c":"b","x":3220,"y":9950},{"c":"b","x":3500,"y":9930},{"c":"b","x":3160,"y":10180},{"c":"b","x":3580,"y":10070},{"c":"b","x":3050,"y":9990},{"c":"b","x":3370,"y":10300},{"c":"b","x":3290,"y":9740},{"c":"b","x":3460,"y":10260},{"c":"b","x":3180,"y":9800},{"c":"b","x":3540,"y":9780},{"c":"b","x":3110,"y":10300},{"c":"b","x":3640,"y":10180},{"c":"b","x":3000,"y":9900},{"c":"b","x":3400,"y":9650},{"c":"b","x":3240,"y":10410},{"c":"b","x":3620,"y":9860},{"c":"b","x":3030,"y":10220},{"c":"b","x":3350,"y":10140},{"c":"b","x":3270,"y":9900},{"c":"b","x":3510,"y":10370},{"c":"b","x":3130,"y":9690},{"c":"b","x":3690,"y":10050},{"c":"b","x":2950,"y":10050},{"c":"b","x":3430,"y":9820},
{"c":"b","x":3370,"y":9990},{"c":"b","x":3260,"y":10070},{"c":"b","x":3350,"y":10180},{"c":"b","x":3300,"y":9950},{"c":"b","x":3450,"y":10050},{"c":"b","x":3190,"y":10010},{"c":"b","x":3400,"y":9880},{"c":"b","x":3240,"y":10160},{"c":"b","x":3500,"y":10160},{"c":"b","x":3140,"y":9900},{"c":"b","x":3340,"y":10070},{"c":"b","x":3290,"y":10260},{"c":"b","x":3420,"y":10090},{"c":"b","x":3220,"y":9860},
{"c":"b","x":3070,"y":8980},{"c":"b","x":3240,"y":8410},{"c":"b","x":2830,"y":7830},{"c":"b","x":3870,"y":9980},{"c":"b","x":3270,"y":10580},
{"c":"o","x":6590,"y":8930},{"c":"o","x":6710,"y":9000},{"c":"o","x":6470,"y":8860},{"c":"o","x":6810,"y":8850},{"c":"o","x":6390,"y":9050},{"c":"o","x":6910,"y":8960},{"c":"o","x":6250,"y":8900},{"c":"o","x":6650,"y":9150},{"c":"o","x":6550,"y":8700},{"c":"o","x":6770,"y":9110},{"c":"o","x":6410,"y":8750},{"c":"o","x":6870,"y":8730},{"c":"o","x":6330,"y":9150},{"c":"o","x":6990,"y":9050},{"c":"o","x":6190,"y":8830},{"c":"o","x":6690,"y":8630},{"c":"o","x":6490,"y":9230},{"c":"o","x":6970,"y":8800},{"c":"o","x":6230,"y":9080},{"c":"o","x":6630,"y":9010},{"c":"o","x":6530,"y":8830},{"c":"o","x":6830,"y":9190},{"c":"o","x":6350,"y":8670},{"c":"o","x":7050,"y":8950},{"c":"o","x":6130,"y":8950},{"c":"o","x":6730,"y":8770},
{"c":"o","x":6650,"y":8900},{"c":"o","x":6510,"y":8960},{"c":"o","x":6630,"y":9050},{"c":"o","x":6570,"y":8860},{"c":"o","x":6750,"y":8950},{"c":"o","x":6430,"y":8910},{"c":"o","x":6690,"y":8810},{"c":"o","x":6490,"y":9030},{"c":"o","x":6810,"y":9030},{"c":"o","x":6370,"y":8830},{"c":"o","x":6610,"y":8960},{"c":"o","x":6550,"y":9110},{"c":"o","x":6710,"y":8980},{"c":"o","x":6470,"y":8800},
{"c":"o","x":7110,"y":9080},{"c":"o","x":7170,"y":9100},{"c":"o","x":6490,"y":7980},{"c":"o","x":5410,"y":7240},{"c":"o","x":6040,"y":6140}
],
"r3":[
{"c":"k","x":2140,"y":2360},{"c":"k","x":2200,"y":2400},{"c":"k","x":2070,"y":2330},{"c":"k","x":2260,"y":2300},{"c":"k","x":2010,"y":2430},{"c":"k","x":2310,"y":2390},{"c":"k","x":1970,"y":2320},{"c":"k","x":2170,"y":2520},{"c":"k","x":2130,"y":2200},{"c":"k","x":2360,"y":2260},{"c":"k","x":1910,"y":2450},{"c":"k","x":2240,"y":2510},{"c":"k","x":2050,"y":2190},{"c":"k","x":2300,"y":2190},{"c":"k","x":1980,"y":2520},{"c":"k","x":2400,"y":2400},{"c":"k","x":1870,"y":2350},{"c":"k","x":2200,"y":2110},{"c":"k","x":2080,"y":2610},{"c":"k","x":2340,"y":2520},{"c":"k","x":1940,"y":2220},{"c":"k","x":2430,"y":2330},{"c":"k","x":1850,"y":2390},{"c":"k","x":2270,"y":2590},{"c":"k","x":2020,"y":2110},{"c":"k","x":2160,"y":2450},{"c":"k","x":2110,"y":2270},{"c":"k","x":2230,"y":2240},{"c":"k","x":2040,"y":2480},{"c":"k","x":2390,"y":2200},{"c":"k","x":1890,"y":2520},{"c":"k","x":2180,"y":2320},{"c":"k","x":2100,"y":2400},{"c":"k","x":2460,"y":2450},{"c":"k","x":1820,"y":2270},{"c":"k","x":2310,"y":2640},
{"c":"k","x":2180,"y":2330},{"c":"k","x":2080,"y":2390},{"c":"k","x":2170,"y":2460},{"c":"k","x":2130,"y":2300},{"c":"k","x":2260,"y":2370},{"c":"k","x":2020,"y":2350},{"c":"k","x":2210,"y":2260},{"c":"k","x":2070,"y":2450},{"c":"k","x":2300,"y":2450},{"c":"k","x":1980,"y":2270},{"c":"k","x":2150,"y":2390},{"c":"k","x":2110,"y":2520},{"c":"k","x":2230,"y":2400},{"c":"k","x":2050,"y":2240},
{"c":"k","x":1450,"y":1730,"r":1},{"c":"k","x":1580,"y":1570,"r":1},{"c":"k","x":1710,"y":2050,"r":1},{"c":"k","x":1800,"y":2110,"r":1},{"c":"k","x":2490,"y":2710,"r":1},{"c":"k","x":2560,"y":2000,"r":1},{"c":"k","x":2700,"y":2710,"r":1},{"c":"k","x":2700,"y":2160,"r":1},{"c":"k","x":2750,"y":3290,"r":1},{"c":"k","x":2960,"y":2240,"r":1},{"c":"k","x":3080,"y":2240,"r":1},{"c":"k","x":3090,"y":1730,"r":1},{"c":"k","x":3290,"y":1970,"r":1},{"c":"k","x":3470,"y":1950,"r":1},{"c":"k","x":3560,"y":1760,"r":1},{"c":"k","x":3760,"y":1920,"r":1},{"c":"k","x":3850,"y":1790,"r":1},{"c":"k","x":3970,"y":1680,"r":1},{"c":"k","x":3840,"y":930,"r":1},
{"c":"g","x":5380,"y":1320},{"c":"g","x":5480,"y":1350},{"c":"g","x":5260,"y":1310},{"c":"g","x":5570,"y":1240},{"c":"g","x":5160,"y":1420},{"c":"g","x":5670,"y":1310},{"c":"g","x":5090,"y":1310},{"c":"g","x":5430,"y":1480},{"c":"g","x":5360,"y":1160},{"c":"g","x":5740,"y":1170},{"c":"g","x":5000,"y":1460},{"c":"g","x":5550,"y":1450},{"c":"g","x":5240,"y":1160},{"c":"g","x":5640,"y":1110},{"c":"g","x":5120,"y":1520},{"c":"g","x":5810,"y":1310},{"c":"g","x":4940,"y":1360},{"c":"g","x":5480,"y":1050},{"c":"g","x":5280,"y":1590},{"c":"g","x":5720,"y":1440},{"c":"g","x":5040,"y":1210},{"c":"g","x":5860,"y":1230},{"c":"g","x":4900,"y":1410},{"c":"g","x":5600,"y":1530},{"c":"g","x":5190,"y":1090},{"c":"g","x":5400,"y":1410},{"c":"g","x":5330,"y":1240},{"c":"g","x":5520,"y":1180},{"c":"g","x":5210,"y":1460},{"c":"g","x":5790,"y":1100},{"c":"g","x":4970,"y":1540},{"c":"g","x":5450,"y":1270},{"c":"g","x":5310,"y":1370},{"c":"g","x":5910,"y":1340},{"c":"g","x":4850,"y":1300},{"c":"g","x":5670,"y":1570},
{"c":"g","x":5450,"y":1280},{"c":"g","x":5280,"y":1360},{"c":"g","x":5430,"y":1420},{"c":"g","x":5360,"y":1260},{"c":"g","x":5570,"y":1310},{"c":"g","x":5190,"y":1330},{"c":"g","x":5500,"y":1200},{"c":"g","x":5260,"y":1430},{"c":"g","x":5640,"y":1380},{"c":"g","x":5120,"y":1260},{"c":"g","x":5400,"y":1350},{"c":"g","x":5330,"y":1490},{"c":"g","x":5520,"y":1350},{"c":"g","x":5240,"y":1220},
{"c":"g","x":4070,"y":1730,"r":1},{"c":"g","x":4200,"y":1680,"r":1},{"c":"g","x":4340,"y":1530,"r":1},{"c":"g","x":4520,"y":1600,"r":1},{"c":"g","x":4690,"y":1600,"r":1},{"c":"g","x":4780,"y":1450,"r":1},{"c":"g","x":4560,"y":1210,"r":1},{"c":"g","x":4450,"y":900,"r":1},{"c":"g","x":4120,"y":1130,"r":1},{"c":"g","x":4290,"y":1050,"r":1},{"c":"g","x":5440,"y":3570,"r":1},{"c":"g","x":5400,"y":2870,"r":1},{"c":"g","x":5280,"y":2550,"r":1},{"c":"g","x":5530,"y":2760,"r":1},{"c":"g","x":5710,"y":2440,"r":1},{"c":"g","x":5180,"y":2110,"r":1},{"c":"g","x":5300,"y":2200,"r":1},{"c":"g","x":5420,"y":2110,"r":1},{"c":"g","x":5980,"y":1730,"r":1},{"c":"g","x":6410,"y":1650,"r":1},{"c":"g","x":6030,"y":1320,"r":1},{"c":"g","x":4680,"y":1900,"r":1},
{"c":"b","x":2760,"y":9820},{"c":"b","x":2840,"y":9900},{"c":"b","x":2680,"y":9740},{"c":"b","x":2910,"y":9720},{"c":"b","x":2620,"y":9970},{"c":"b","x":2980,"y":9860},{"c":"b","x":2520,"y":9780},{"c":"b","x":2800,"y":10090},{"c":"b","x":2730,"y":9530},{"c":"b","x":2890,"y":10050},{"c":"b","x":2630,"y":9590},{"c":"b","x":2960,"y":9570},{"c":"b","x":2580,"y":10090},{"c":"b","x":3040,"y":9970},{"c":"b","x":2480,"y":9690},{"c":"b","x":2830,"y":9440},{"c":"b","x":2690,"y":10200},{"c":"b","x":3030,"y":9650},{"c":"b","x":2510,"y":10010},{"c":"b","x":2790,"y":9930},{"c":"b","x":2720,"y":9690},{"c":"b","x":2930,"y":10160},{"c":"b","x":2590,"y":9480},{"c":"b","x":3080,"y":9840},{"c":"b","x":2440,"y":9840},{"c":"b","x":2860,"y":9610},
{"c":"b","x":2800,"y":9780},{"c":"b","x":2700,"y":9860},{"c":"b","x":2790,"y":9970},{"c":"b","x":2750,"y":9740},{"c":"b","x":2870,"y":9840},{"c":"b","x":2650,"y":9800},{"c":"b","x":2830,"y":9670},{"c":"b","x":2690,"y":9950},{"c":"b","x":2910,"y":9950},{"c":"b","x":2610,"y":9690},{"c":"b","x":2770,"y":9860},{"c":"b","x":2730,"y":10050},{"c":"b","x":2840,"y":9880},{"c":"b","x":2680,"y":9650},
{"c":"b","x":2380,"y":8170},{"c":"b","x":2430,"y":8140},{"c":"b","x":2540,"y":8540},{"c":"b","x":2600,"y":7750},{"c":"b","x":2650,"y":8700},{"c":"b","x":2690,"y":8800},{"c":"b","x":2830,"y":8140},{"c":"b","x":3090,"y":8850},{"c":"b","x":2380,"y":6570},{"c":"b","x":2460,"y":6460},{"c":"b","x":2580,"y":6610},{"c":"b","x":2680,"y":5980},{"c":"b","x":2250,"y":4750},{"c":"b","x":2280,"y":4550},{"c":"b","x":3320,"y":9800},{"c":"b","x":3540,"y":9350},{"c":"b","x":2420,"y":10350},{"c":"b","x":2710,"y":9100},{"c":"b","x":2560,"y":8900},
{"c":"o","x":5960,"y":8700},{"c":"o","x":6070,"y":8780},{"c":"o","x":5850,"y":8620},{"c":"o","x":6160,"y":8610},{"c":"o","x":5780,"y":8830},{"c":"o","x":6250,"y":8740},{"c":"o","x":5650,"y":8660},{"c":"o","x":6010,"y":8950},{"c":"o","x":5920,"y":8430},{"c":"o","x":6120,"y":8910},{"c":"o","x":5800,"y":8490},{"c":"o","x":6210,"y":8470},{"c":"o","x":5730,"y":8950},{"c":"o","x":6320,"y":8830},{"c":"o","x":5600,"y":8590},{"c":"o","x":6050,"y":8360},{"c":"o","x":5870,"y":9040},{"c":"o","x":6300,"y":8550},{"c":"o","x":5640,"y":8870},{"c":"o","x":6000,"y":8800},{"c":"o","x":5910,"y":8590},{"c":"o","x":6180,"y":9000},{"c":"o","x":5740,"y":8400},{"c":"o","x":6370,"y":8720},{"c":"o","x":5550,"y":8720},{"c":"o","x":6090,"y":8510},
{"c":"o","x":6010,"y":8660},{"c":"o","x":5890,"y":8740},{"c":"o","x":5990,"y":8830},{"c":"o","x":5940,"y":8620},{"c":"o","x":6100,"y":8720},{"c":"o","x":5820,"y":8680},{"c":"o","x":6050,"y":8570},{"c":"o","x":5870,"y":8810},{"c":"o","x":6160,"y":8810},{"c":"o","x":5760,"y":8590},{"c":"o","x":5980,"y":8740},{"c":"o","x":5920,"y":8910},{"c":"o","x":6070,"y":8760},{"c":"o","x":5850,"y":8550},
{"c":"o","x":5700,"y":7830},{"c":"o","x":5720,"y":7280},{"c":"o","x":5760,"y":7040},{"c":"o","x":5810,"y":6990},{"c":"o","x":5900,"y":7350},{"c":"o","x":5560,"y":7560},{"c":"o","x":5410,"y":7980},{"c":"o","x":5500,"y":7870},{"c":"o","x":6560,"y":9950},{"c":"o","x":6540,"y":9240},{"c":"o","x":6590,"y":8610},{"c":"o","x":6380,"y":9450},{"c":"o","x":6250,"y":7910},{"c":"o","x":5860,"y":7700}
]
},
"hconcat":[
{"bounds":"flush","spacing":14,"vconcat":[
{"width":646,"height":255,"layer":[
{"data":{"name":"l1"},"mark":{"type":"square","opacity":0.8},"encoding":{
"x":{"field":"x","type":"quantitative","scale":{"domain":[1000,8000],"nice":false,"zero":false},"axis":{"values":[1000,2000,3000,4000,5000,6000,7000,8000],"format":"d","title":null}},
"y":{"field":"y","type":"quantitative","scale":{"domain":[0,11000],"nice":false},"axis":{"values":[0,1000,2000,3000,4000,5000,6000,7000,8000,9000,10000,11000],"format":"d","title":null}},
"color":{"field":"c","type":"nominal","scale":{"domain":["b","o","k","g"],"range":["#1f6fd6","#ec7524","#333333","#1cba1c"]},"legend":null},
"size":{"condition":[{"test":"datum.r == 1","value":5},{"test":"datum.c == 'k' || datum.c == 'g'","value":34}],"value":6}}},
{"data":{"name":"thr"},"transform":[{"filter":"datum.p == 'l1'"}],"mark":{"type":"rule","color":"#f03cf0","strokeWidth":2},"encoding":{"x":{"field":"tx","type":"quantitative","axis":{"values":[1000,2000,3000,4000,5000,6000,7000,8000],"format":"d","title":null}}}},
{"data":{"name":"thr"},"transform":[{"filter":"datum.p == 'l1'"}],"mark":{"type":"rule","color":"#f03cf0","strokeWidth":2},"encoding":{"y":{"field":"ty","type":"quantitative","axis":{"values":[0,1000,2000,3000,4000,5000,6000,7000,8000,9000,10000,11000],"format":"d","title":null}}}},
{"data":{"name":"thr"},"transform":[{"filter":"datum.p == 'l1'"}],"mark":{"type":"text","font":"DejaVu Sans","fontSize":5,"color":"#444","align":"left","baseline":"top","dx":2,"dy":2},"encoding":{"x":{"field":"tx","type":"quantitative","axis":{"values":[1000,2000,3000,4000,5000,6000,7000,8000],"format":"d","title":null}},"y":{"datum":11000,"type":"quantitative","axis":{"values":[0,1000,2000,3000,4000,5000,6000,7000,8000,9000,10000,11000],"format":"d","title":null}},"text":{"field":"tx","type":"quantitative","format":"d"}}},
{"data":{"name":"thr"},"transform":[{"filter":"datum.p == 'l1'"}],"mark":{"type":"text","font":"DejaVu Sans","fontSize":5,"color":"#444","align":"right","baseline":"bottom","dx":-1,"dy":-1},"encoding":{"x":{"datum":8000,"type":"quantitative","axis":{"values":[1000,2000,3000,4000,5000,6000,7000,8000],"format":"d","title":null}},"y":{"field":"ty","type":"quantitative","axis":{"values":[0,1000,2000,3000,4000,5000,6000,7000,8000,9000,10000,11000],"format":"d","title":null}},"text":{"field":"ty","type":"quantitative","format":"d"}}},
{"data":{"name":"thr"},"transform":[{"filter":"datum.p == 'l1'"}],"mark":{"type":"text","font":"Noto Sans","fontSize":27,"color":"#000","align":"left","baseline":"alphabetic"},"encoding":{"x":{"datum":1040,"type":"quantitative","axis":{"values":[1000,2000,3000,4000,5000,6000,7000,8000],"format":"d","title":null}},"y":{"datum":9580,"type":"quantitative","axis":{"values":[0,1000,2000,3000,4000,5000,6000,7000,8000,9000,10000,11000],"format":"d","title":null}},"text":{"field":"name"}}}
]},
{"width":646,"height":255,"layer":[
{"data":{"name":"l2"},"mark":{"type":"square","opacity":0.8},"encoding":{
"x":{"field":"x","type":"quantitative","scale":{"domain":[1000,8000],"nice":false,"zero":false},"axis":{"values":[1000,2000,3000,4000,5000,6000,7000,8000],"format":"d","title":null}},
"y":{"field":"y","type":"quantitative","title":"N1","scale":{"domain":[0,11000],"nice":false},"axis":{"values":[0,1000,2000,3000,4000,5000,6000,7000,8000,9000,10000,11000],"format":"d","titleFontSize":31,"titleX":-35,"titleY":106,"titleBaseline":"alphabetic","titleAngle":270}},
"color":{"field":"c","type":"nominal","scale":{"domain":["b","o","k","g"],"range":["#1f6fd6","#ec7524","#333333","#1cba1c"]},"legend":null},
"size":{"condition":[{"test":"datum.r == 1","value":5},{"test":"datum.c == 'k' || datum.c == 'g'","value":24}],"value":6}}},
{"data":{"name":"thr"},"transform":[{"filter":"datum.p == 'l2'"}],"mark":{"type":"rule","color":"#f03cf0","strokeWidth":2},"encoding":{"x":{"field":"tx","type":"quantitative","axis":{"values":[1000,2000,3000,4000,5000,6000,7000,8000],"format":"d","title":null}}}},
{"data":{"name":"thr"},"transform":[{"filter":"datum.p == 'l2'"}],"mark":{"type":"rule","color":"#f03cf0","strokeWidth":2},"encoding":{"y":{"field":"ty","type":"quantitative","title":"N1","axis":{"values":[0,1000,2000,3000,4000,5000,6000,7000,8000,9000,10000,11000],"format":"d"}}}},
{"data":{"name":"thr"},"transform":[{"filter":"datum.p == 'l2'"}],"mark":{"type":"text","font":"DejaVu Sans","fontSize":5,"color":"#444","align":"left","baseline":"top","dx":2,"dy":2},"encoding":{"x":{"field":"tx","type":"quantitative","axis":{"values":[1000,2000,3000,4000,5000,6000,7000,8000],"format":"d","title":null}},"y":{"datum":11000,"type":"quantitative","title":"N1","axis":{"values":[0,1000,2000,3000,4000,5000,6000,7000,8000,9000,10000,11000],"format":"d"}},"text":{"field":"tx","type":"quantitative","format":"d"}}},
{"data":{"name":"thr"},"transform":[{"filter":"datum.p == 'l2'"}],"mark":{"type":"text","font":"DejaVu Sans","fontSize":5,"color":"#444","align":"right","baseline":"bottom","dx":-1,"dy":-1},"encoding":{"x":{"datum":8000,"type":"quantitative","axis":{"values":[1000,2000,3000,4000,5000,6000,7000,8000],"format":"d","title":null}},"y":{"field":"ty","type":"quantitative","title":"N1","axis":{"values":[0,1000,2000,3000,4000,5000,6000,7000,8000,9000,10000,11000],"format":"d"}},"text":{"field":"ty","type":"quantitative","format":"d"}}},
{"data":{"name":"thr"},"transform":[{"filter":"datum.p == 'l2'"}],"mark":{"type":"text","font":"Noto Sans","fontSize":27,"color":"#000","align":"left","baseline":"alphabetic"},"encoding":{"x":{"datum":1130,"type":"quantitative","axis":{"values":[1000,2000,3000,4000,5000,6000,7000,8000],"format":"d","title":null}},"y":{"datum":9830,"type":"quantitative","title":"N1","axis":{"values":[0,1000,2000,3000,4000,5000,6000,7000,8000,9000,10000,11000],"format":"d"}},"text":{"field":"name"}}}
]},
{"width":646,"height":255,"layer":[
{"data":{"name":"l3"},"mark":{"type":"square","opacity":0.8},"encoding":{
"x":{"field":"x","type":"quantitative","title":"cRPP30","scale":{"domain":[1000,8000],"nice":false,"zero":false},"axis":{"values":[1000,2000,3000,4000,5000,6000,7000,8000],"format":"d","titleFontSize":32,"titleX":308,"titleY":48,"titleBaseline":"alphabetic","titleAlign":"center"}},
"y":{"field":"y","type":"quantitative","scale":{"domain":[0,11000],"nice":false},"axis":{"values":[0,1000,2000,3000,4000,5000,6000,7000,8000,9000,10000,11000],"format":"d","title":null}},
"color":{"field":"c","type":"nominal","scale":{"domain":["b","o","k","g"],"range":["#1f6fd6","#ec7524","#333333","#1cba1c"]},"legend":null},
"size":{"condition":[{"test":"datum.r == 1","value":5},{"test":"datum.c == 'k' || datum.c == 'g'","value":24}],"value":6}}},
{"data":{"name":"thr"},"transform":[{"filter":"datum.p == 'l3'"}],"mark":{"type":"rule","color":"#f03cf0","strokeWidth":2},"encoding":{"x":{"field":"tx","type":"quantitative","title":"cRPP30","axis":{"values":[1000,2000,3000,4000,5000,6000,7000,8000],"format":"d"}}}},
{"data":{"name":"thr"},"transform":[{"filter":"datum.p == 'l3'"}],"mark":{"type":"rule","color":"#f03cf0","strokeWidth":2},"encoding":{"y":{"field":"ty","type":"quantitative","axis":{"values":[0,1000,2000,3000,4000,5000,6000,7000,8000,9000,10000,11000],"format":"d","title":null}}}},
{"data":{"name":"thr"},"transform":[{"filter":"datum.p == 'l3'"}],"mark":{"type":"text","font":"DejaVu Sans","fontSize":5,"color":"#444","align":"left","baseline":"top","dx":2,"dy":2},"encoding":{"x":{"field":"tx","type":"quantitative","title":"cRPP30","axis":{"values":[1000,2000,3000,4000,5000,6000,7000,8000],"format":"d"}},"y":{"datum":11000,"type":"quantitative","axis":{"values":[0,1000,2000,3000,4000,5000,6000,7000,8000,9000,10000,11000],"format":"d","title":null}},"text":{"field":"tx","type":"quantitative","format":"d"}}},
{"data":{"name":"thr"},"transform":[{"filter":"datum.p == 'l3'"}],"mark":{"type":"text","font":"DejaVu Sans","fontSize":5,"color":"#444","align":"right","baseline":"bottom","dx":-1,"dy":-1},"encoding":{"x":{"datum":8000,"type":"quantitative","title":"cRPP30","axis":{"values":[1000,2000,3000,4000,5000,6000,7000,8000],"format":"d"}},"y":{"field":"ty","type":"quantitative","axis":{"values":[0,1000,2000,3000,4000,5000,6000,7000,8000,9000,10000,11000],"format":"d","title":null}},"text":{"field":"ty","type":"quantitative","format":"d"}}},
{"data":{"name":"thr"},"transform":[{"filter":"datum.p == 'l3'"}],"mark":{"type":"text","font":"Noto Sans","fontSize":32,"color":"#000","align":"left","baseline":"alphabetic"},"encoding":{"x":{"datum":1130,"type":"quantitative","title":"cRPP30","axis":{"values":[1000,2000,3000,4000,5000,6000,7000,8000],"format":"d"}},"y":{"datum":9190,"type":"quantitative","axis":{"values":[0,1000,2000,3000,4000,5000,6000,7000,8000,9000,10000,11000],"format":"d","title":null}},"text":{"field":"name"}}}
]}
]},
{"bounds":"flush","spacing":15,"vconcat":[
{"width":642,"height":254,"layer":[
{"data":{"name":"r1"},"mark":{"type":"square","opacity":0.8},"encoding":{
"x":{"field":"x","type":"quantitative","scale":{"domain":[1000,8000],"nice":false,"zero":false},"axis":{"values":[1000,2000,3000,4000,5000,6000,7000,8000],"format":"d","title":null}},
"y":{"field":"y","type":"quantitative","scale":{"domain":[0,12000],"nice":false},"axis":{"values":[0,2000,4000,6000,8000,10000,12000],"format":"d","title":null}},
"color":{"field":"c","type":"nominal","scale":{"domain":["b","o","k","g"],"range":["#1f6fd6","#ec7524","#333333","#1cba1c"]},"legend":null},
"size":{"condition":[{"test":"datum.r == 1","value":5},{"test":"datum.c == 'k' || datum.c == 'g'","value":30}],"value":6}}},
{"data":{"name":"thr"},"transform":[{"filter":"datum.p == 'r1'"}],"mark":{"type":"rule","color":"#f03cf0","strokeWidth":2},"encoding":{"x":{"field":"tx","type":"quantitative","axis":{"values":[1000,2000,3000,4000,5000,6000,7000,8000],"format":"d","title":null}}}},
{"data":{"name":"thr"},"transform":[{"filter":"datum.p == 'r1'"}],"mark":{"type":"rule","color":"#f03cf0","strokeWidth":2},"encoding":{"y":{"field":"ty","type":"quantitative","axis":{"values":[0,2000,4000,6000,8000,10000,12000],"format":"d","title":null}}}},
{"data":{"name":"thr"},"transform":[{"filter":"datum.p == 'r1'"}],"mark":{"type":"text","font":"DejaVu Sans","fontSize":5,"color":"#444","align":"left","baseline":"top","dx":2,"dy":2},"encoding":{"x":{"field":"tx","type":"quantitative","axis":{"values":[1000,2000,3000,4000,5000,6000,7000,8000],"format":"d","title":null}},"y":{"datum":12000,"type":"quantitative","axis":{"values":[0,2000,4000,6000,8000,10000,12000],"format":"d","title":null}},"text":{"field":"tx","type":"quantitative","format":"d"}}},
{"data":{"name":"thr"},"transform":[{"filter":"datum.p == 'r1'"}],"mark":{"type":"text","font":"DejaVu Sans","fontSize":5,"color":"#444","align":"right","baseline":"bottom","dx":-1,"dy":-1},"encoding":{"x":{"datum":8000,"type":"quantitative","axis":{"values":[1000,2000,3000,4000,5000,6000,7000,8000],"format":"d","title":null}},"y":{"field":"ty","type":"quantitative","axis":{"values":[0,2000,4000,6000,8000,10000,12000],"format":"d","title":null}},"text":{"field":"ty","type":"quantitative","format":"d"}}},
{"data":{"name":"thr"},"transform":[{"filter":"datum.p == 'r1'"}],"mark":{"type":"text","font":"Noto Sans","fontSize":27,"color":"#000","align":"left","baseline":"alphabetic"},"encoding":{"x":{"datum":1110,"type":"quantitative","axis":{"values":[1000,2000,3000,4000,5000,6000,7000,8000],"format":"d","title":null}},"y":{"datum":10540,"type":"quantitative","axis":{"values":[0,2000,4000,6000,8000,10000,12000],"format":"d","title":null}},"text":{"field":"name"}}}
]},
{"width":642,"height":254,"layer":[
{"data":{"name":"r2"},"mark":{"type":"square","opacity":0.8},"encoding":{
"x":{"field":"x","type":"quantitative","scale":{"domain":[1000,8000],"nice":false,"zero":false},"axis":{"values":[1000,2000,3000,4000,5000,6000,7000,8000],"format":"d","title":null}},
"y":{"field":"y","type":"quantitative","title":"N2","scale":{"domain":[0,12000],"nice":false},"axis":{"values":[0,2000,4000,6000,8000,10000,12000],"format":"d","titleFontSize":31,"titleX":-35,"titleY":93,"titleBaseline":"alphabetic","titleAngle":270}},
"color":{"field":"c","type":"nominal","scale":{"domain":["b","o","k","g"],"range":["#1f6fd6","#ec7524","#333333","#1cba1c"]},"legend":null},
"size":{"condition":[{"test":"datum.r == 1","value":5},{"test":"datum.c == 'k' || datum.c == 'g'","value":24}],"value":6}}},
{"data":{"name":"thr"},"transform":[{"filter":"datum.p == 'r2'"}],"mark":{"type":"rule","color":"#f03cf0","strokeWidth":2},"encoding":{"x":{"field":"tx","type":"quantitative","axis":{"values":[1000,2000,3000,4000,5000,6000,7000,8000],"format":"d","title":null}}}},
{"data":{"name":"thr"},"transform":[{"filter":"datum.p == 'r2'"}],"mark":{"type":"rule","color":"#f03cf0","strokeWidth":2},"encoding":{"y":{"field":"ty","type":"quantitative","title":"N2","axis":{"values":[0,2000,4000,6000,8000,10000,12000],"format":"d"}}}},
{"data":{"name":"thr"},"transform":[{"filter":"datum.p == 'r2'"}],"mark":{"type":"text","font":"DejaVu Sans","fontSize":5,"color":"#444","align":"left","baseline":"top","dx":2,"dy":2},"encoding":{"x":{"field":"tx","type":"quantitative","axis":{"values":[1000,2000,3000,4000,5000,6000,7000,8000],"format":"d","title":null}},"y":{"datum":12000,"type":"quantitative","title":"N2","axis":{"values":[0,2000,4000,6000,8000,10000,12000],"format":"d"}},"text":{"field":"tx","type":"quantitative","format":"d"}}},
{"data":{"name":"thr"},"transform":[{"filter":"datum.p == 'r2'"}],"mark":{"type":"text","font":"DejaVu Sans","fontSize":5,"color":"#444","align":"right","baseline":"bottom","dx":-1,"dy":-1},"encoding":{"x":{"datum":8000,"type":"quantitative","axis":{"values":[1000,2000,3000,4000,5000,6000,7000,8000],"format":"d","title":null}},"y":{"field":"ty","type":"quantitative","title":"N2","axis":{"values":[0,2000,4000,6000,8000,10000,12000],"format":"d"}},"text":{"field":"ty","type":"quantitative","format":"d"}}},
{"data":{"name":"thr"},"transform":[{"filter":"datum.p == 'r2'"}],"mark":{"type":"text","font":"Noto Sans","fontSize":27,"color":"#000","align":"left","baseline":"alphabetic"},"encoding":{"x":{"datum":1075,"type":"quantitative","axis":{"values":[1000,2000,3000,4000,5000,6000,7000,8000],"format":"d","title":null}},"y":{"datum":10490,"type":"quantitative","title":"N2","axis":{"values":[0,2000,4000,6000,8000,10000,12000],"format":"d"}},"text":{"field":"name"}}}
]},
{"width":642,"height":254,"layer":[
{"data":{"name":"r3"},"mark":{"type":"square","opacity":0.8},"encoding":{
"x":{"field":"x","type":"quantitative","title":"RPP30","scale":{"domain":[1000,8000],"nice":false,"zero":false},"axis":{"values":[1000,2000,3000,4000,5000,6000,7000,8000],"format":"d","titleFontSize":32,"titleX":317,"titleY":45,"titleBaseline":"alphabetic","titleAlign":"center"}},
"y":{"field":"y","type":"quantitative","scale":{"domain":[0,12000],"nice":false},"axis":{"values":[0,2000,4000,6000,8000,10000,12000],"format":"d","title":null}},
"color":{"field":"c","type":"nominal","scale":{"domain":["b","o","k","g"],"range":["#1f6fd6","#ec7524","#333333","#1cba1c"]},"legend":null},
"size":{"condition":[{"test":"datum.r == 1","value":5},{"test":"datum.c == 'k' || datum.c == 'g'","value":24}],"value":6}}},
{"data":{"name":"thr"},"transform":[{"filter":"datum.p == 'r3'"}],"mark":{"type":"rule","color":"#f03cf0","strokeWidth":2},"encoding":{"x":{"field":"tx","type":"quantitative","title":"RPP30","axis":{"values":[1000,2000,3000,4000,5000,6000,7000,8000],"format":"d"}}}},
{"data":{"name":"thr"},"transform":[{"filter":"datum.p == 'r3'"}],"mark":{"type":"rule","color":"#f03cf0","strokeWidth":2},"encoding":{"y":{"field":"ty","type":"quantitative","axis":{"values":[0,2000,4000,6000,8000,10000,12000],"format":"d","title":null}}}},
{"data":{"name":"thr"},"transform":[{"filter":"datum.p == 'r3'"}],"mark":{"type":"text","font":"DejaVu Sans","fontSize":5,"color":"#444","align":"left","baseline":"top","dx":2,"dy":2},"encoding":{"x":{"field":"tx","type":"quantitative","title":"RPP30","axis":{"values":[1000,2000,3000,4000,5000,6000,7000,8000],"format":"d"}},"y":{"datum":12000,"type":"quantitative","axis":{"values":[0,2000,4000,6000,8000,10000,12000],"format":"d","title":null}},"text":{"field":"tx","type":"quantitative","format":"d"}}},
{"data":{"name":"thr"},"transform":[{"filter":"datum.p == 'r3'"}],"mark":{"type":"text","font":"DejaVu Sans","fontSize":5,"color":"#444","align":"right","baseline":"bottom","dx":-1,"dy":-1},"encoding":{"x":{"datum":8000,"type":"quantitative","title":"RPP30","axis":{"values":[1000,2000,3000,4000,5000,6000,7000,8000],"format":"d"}},"y":{"field":"ty","type":"quantitative","axis":{"values":[0,2000,4000,6000,8000,10000,12000],"format":"d","title":null}},"text":{"field":"ty","type":"quantitative","format":"d"}}},
{"data":{"name":"thr"},"transform":[{"filter":"datum.p == 'r3'"}],"mark":{"type":"text","font":"Noto Sans","fontSize":28,"color":"#000","align":"left","baseline":"alphabetic"},"encoding":{"x":{"datum":1110,"type":"quantitative","title":"RPP30","axis":{"values":[1000,2000,3000,4000,5000,6000,7000,8000],"format":"d"}},"y":{"datum":10630,"type":"quantitative","axis":{"values":[0,2000,4000,6000,8000,10000,12000],"format":"d","title":null}},"text":{"field":"name"}}}
]}
]}
],
"config":{
"view":{"fill":"#f4f4f4","stroke":"#a8a8a8","strokeWidth":1},
"axis":{"labelFont":"DejaVu Sans","labelFontSize":6,"labelFontWeight":"bold","labelColor":"#2a2a2a","labelOverlap":false,"labelFlush":false,"tickColor":"#666","tickSize":3,"labelPadding":2,"gridColor":"#dadada","gridWidth":1,"titleFont":"Noto Sans","titleFontWeight":"normal","titleColor":"#000"},
"axisX":{"domainColor":"#9a9a9a","domainWidth":2},
"axisY":{"domainColor":"#555","domainWidth":1}
}
}
